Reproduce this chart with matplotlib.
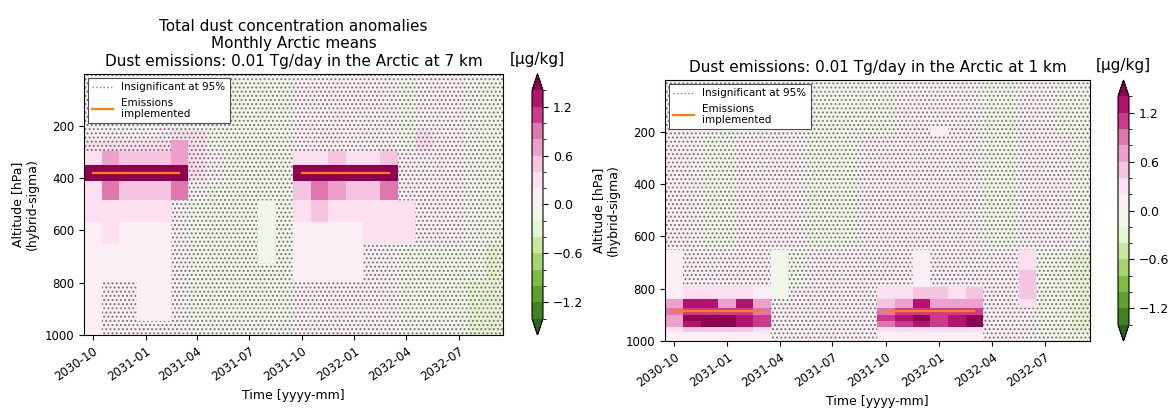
import numpy as np
import pandas as pd
import matplotlib
matplotlib.use('Agg')
import matplotlib.pyplot as plt
import matplotlib.dates as mdates
from matplotlib.colors import BoundaryNorm, ListedColormap
from matplotlib.lines import Line2D

# DATA
MONTHS = pd.date_range('2030-10-01', periods=24, freq='MS')   # monthly means
LEVELS = [3.64, 7.59, 14.36, 24.61, 38.27, 54.6, 72.01, 87.82, 103.32, 121.55,
          142.99, 168.23, 197.91, 232.83, 273.91, 322.24, 379.1, 445.99, 524.69,
          609.78, 691.39, 763.4, 820.86, 859.53, 887.02, 912.64, 936.2, 957.49,
          976.33, 992.56]   # hybrid-sigma mid levels [hPa]
BOUNDS = [-1.4, -1.2, -1.0, -0.8, -0.6, -0.4, -0.2, 0.0,
          0.2, 0.4, 0.6, 0.8, 1.0, 1.2, 1.4]
CBAR_TICKS = [-1.2, -0.6, 0.0, 0.6, 1.2]

# anomaly read per cell: one character per month, one string per level (top -> bottom)
CLASS_VALUE = {'G': -0.3, 'g': -0.1, '.': 0.1, '1': 0.3, '2': 0.5, '3': 0.7,
               '4': 0.9, '5': 1.1, '6': 1.3, '7': 1.6}

ANOM_7KM = ["......gggggg......g...gg"] * 13 + [
    ".....11ggggg......g1..gg",
    "1111131ggggg......g1..gg",
    "1322231.gggg112112....gg",
    "7777771.gggg777777....gg",
    "142224.ggggg243224....gg",
    "11111.gggggg1211111...gg",
    ".1....gggggg....111...gg",
    "......gggggg......gggggG",
    "......gggggg......gggggG",
] + ["......gggggg......ggggGG"] * 8

# x = insignificant at 95%
INSIG_7KM = ["x" * 24] * 14 + [
    "xxxxx-xxxxxxxxxxxxxxxxxx",
    "------xxxxxx------xxxxxx",
    "------xxxxxx------xxxxxx",
    "------xxxxxx------xxxxxx",
    "-----xxxxx-x-------xxxxx",
    "-----xxxxx-x-------xxxxx",
    "-----xxxxx-x----xxxxxxxx",
    "-----xxxxxxx----xxxxxxxx",
] + ["-xx--xxxxxxxxxxxxxxxxxxx"] * 5 + ["-xxxxxxxxxxxxxxxxxxxxxxx"] * 3

ANOM_1KM = ["...ggg..ggggg.....gg..gg"] * 13 + \
    ["..gg....ggg.......gg...g"] * 7 + [
    "......gg............1ggG",
    "......gg............2ggG",
    ".1111.g.....112212..2ggG",
    "366363......236333..1ggG",
    "455554......455555...ggG",
    "377765......567567...ggG",
    "367765......456567...ggG",
    "122221......111111...ggG",
    ".....................ggg",
    ".....................ggg",
]

INSIG_1KM = ["x" * 24] * 12 + ["xxxxxxxxxxxxxxx-xxxxxxxx"] + ["x" * 24] * 7 + [
    "-xxxxx-xxxxxxx-xxxxx-xxx",
    "-xxxxx-xxxxxxx-xxxxx-xxx",
    "-------xxxxx------xx-xxx",
    "------xxxxxx------xx-xxx",
] + ["------xxxxxx------xxxxxx"] * 6

EMIS_START = ['2030-10-01', '2031-10-01']
EMIS_END = ['2031-03-01', '2032-03-01']
EMIS_LEVEL_7KM = 379.1
EMIS_LEVEL_1KM = 887.02

TITLE_7KM = ('Total dust concentration anomalies\nMonthly Arctic means\n'
             'Dust emissions: 0.01 Tg/day in the Arctic at 7 km')
TITLE_1KM = 'Dust emissions: 0.01 Tg/day in the Arctic at 1 km'

# PLOT
plt.rcParams['hatch.linewidth'] = 0.9
cmap = plt.get_cmap('PiYG_r')
norm = BoundaryNorm(BOUNDS, cmap.N, extend='both')
t = mdates.date2num(MONTHS.to_pydatetime())
clear = ListedColormap([(0, 0, 0, 0)])

fig = plt.figure(figsize=(11.68, 4.15), dpi=100)
ax1 = fig.add_axes([0.0719, 0.1928, 0.3587, 0.6289])
cax1 = fig.add_axes([0.4555, 0.1928, 0.0094, 0.6289])
ax2 = fig.add_axes([0.5693, 0.1783, 0.3639, 0.6289])
cax2 = fig.add_axes([0.9572, 0.1783, 0.0094, 0.6289])


def panel(ax, cax, anom, insig, emis_p, title):
    z = np.array([[CLASS_VALUE[c] for c in row] for row in anom])
    ns = np.array([[c == 'x' for c in row] for row in insig])
    mesh = ax.pcolormesh(t, LEVELS, z, cmap=cmap, norm=norm, shading='nearest')
    dots = np.ma.masked_where(~ns, np.ones_like(z))
    ax.pcolor(t, LEVELS, dots, shading='nearest', cmap=clear, hatch='....',
              edgecolors='0.45', linewidth=0)
    for s, e in zip(EMIS_START, EMIS_END):
        ax.plot(mdates.date2num([pd.Timestamp(s), pd.Timestamp(e)]), [emis_p, emis_p],
                color='C1', lw=1.6)
    ax.invert_yaxis()
    ax.set_yticks([200, 400, 600, 800, 1000])
    ax.xaxis.set_major_locator(mdates.MonthLocator(bymonth=[1, 4, 7, 10]))
    ax.xaxis.set_major_formatter(mdates.DateFormatter('%Y-%m'))
    ax.tick_params(labelsize=8.5)
    plt.setp(ax.get_xticklabels(), rotation=35, ha='right', rotation_mode='anchor')
    ax.set_xlabel('Time [yyyy-mm]', fontsize=9)
    ax.set_ylabel('Altitude [hPa]\n(hybrid-sigma)', fontsize=9)
    ax.set_title(title, fontsize=11)
    handles = [Line2D([], [], color='0.5', ls=':', lw=1),
               Line2D([], [], color='C1', lw=1.6)]
    leg = ax.legend(handles, ['Insignificant at 95%', 'Emissions\nimplemented'],
                    loc='upper left', fontsize=7.5, framealpha=1, fancybox=False,
                    edgecolor='0.3', borderaxespad=0.4)
    leg.get_frame().set_linewidth(0.8)
    cb = fig.colorbar(mesh, cax=cax, extend='both', extendfrac='auto', ticks=CBAR_TICKS)
    cb.ax.tick_params(labelsize=9)
    cb.ax.set_title('[µg/kg]', fontsize=11, pad=7)


panel(ax1, cax1, ANOM_7KM, INSIG_7KM, EMIS_LEVEL_7KM, TITLE_7KM)
panel(ax2, cax2, ANOM_1KM, INSIG_1KM, EMIS_LEVEL_1KM, TITLE_1KM)

fig.savefig('out.png', dpi=100)
